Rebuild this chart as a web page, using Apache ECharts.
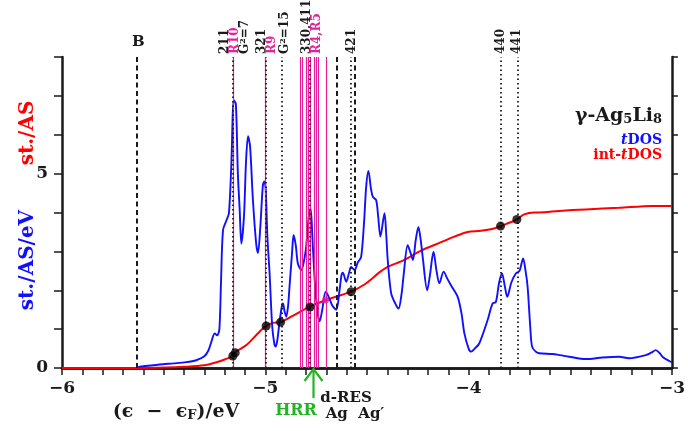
<!DOCTYPE html>
<html><head><meta charset="utf-8">
<script src="https://cdn.jsdelivr.net/npm/echarts@6/dist/echarts.min.js"></script>
<style>html,body{margin:0;padding:0;background:#fff}#c{width:688px;height:431px}</style>
</head><body><div id="c"></div>
<script>
// ---- data ----
const tdos = [[-5.625,0.03],[-5.52,0.09],[-5.45,0.12],[-5.39,0.15],[-5.34,0.2],[-5.30,0.3],[-5.28,0.45],[-5.265,0.68],[-5.249,0.89],[-5.237,0.84],[-5.226,1.0],[-5.218,2.2],[-5.208,3.55],[-5.191,3.8],[-5.179,3.98],[-5.167,5.26],[-5.155,6.89],[-5.145,6.8],[-5.135,5.0],[-5.126,4.06],[-5.118,3.2],[-5.105,3.9],[-5.095,5.3],[-5.085,5.96],[-5.075,5.7],[-5.061,4.32],[-5.045,3.2],[-5.036,2.96],[-5.025,3.6],[-5.012,4.7],[-5.005,4.8],[-4.998,4.6],[-4.99,3.4],[-4.979,2.43],[-4.966,1.06],[-4.955,0.6],[-4.949,0.55],[-4.94,0.75],[-4.933,1.06],[-4.92,1.55],[-4.913,1.66],[-4.905,1.45],[-4.897,1.32],[-4.888,1.6],[-4.881,2.09],[-4.868,3.0],[-4.861,3.42],[-4.85,3.15],[-4.84,2.69],[-4.823,2.52],[-4.81,2.75],[-4.799,3.12],[-4.786,3.9],[-4.777,4.1],[-4.768,3.3],[-4.758,2.35],[-4.745,1.5],[-4.733,1.2],[-4.72,1.5],[-4.703,1.96],[-4.69,1.85],[-4.67,1.6],[-4.651,1.5],[-4.635,2.0],[-4.625,2.4],[-4.619,2.45],[-4.602,2.22],[-4.588,2.45],[-4.578,2.6],[-4.561,2.52],[-4.545,2.72],[-4.529,2.85],[-4.515,3.7],[-4.504,4.66],[-4.493,5.07],[-4.48,4.6],[-4.471,4.4],[-4.455,4.32],[-4.445,3.9],[-4.434,3.38],[-4.414,3.98],[-4.405,3.4],[-4.398,2.78],[-4.381,1.92],[-4.36,1.65],[-4.345,1.53],[-4.33,1.9],[-4.319,2.43],[-4.3,3.16],[-4.288,3.0],[-4.274,2.78],[-4.26,3.3],[-4.247,3.63],[-4.236,3.3],[-4.226,2.86],[-4.204,2.0],[-4.19,2.4],[-4.173,2.99],[-4.158,2.5],[-4.144,2.18],[-4.123,2.48],[-4.105,2.3],[-4.087,2.13],[-4.054,1.83],[-4.035,1.4],[-4.021,0.89],[-4.0,0.5],[-3.988,0.42],[-3.97,0.5],[-3.948,0.63],[-3.907,1.23],[-3.882,1.66],[-3.866,1.7],[-3.85,2.2],[-3.836,2.43],[-3.822,2.1],[-3.81,1.83],[-3.79,2.2],[-3.768,2.43],[-3.75,2.5],[-3.732,2.82],[-3.72,2.5],[-3.71,2.09],[-3.697,1.06],[-3.688,0.55],[-3.67,0.42],[-3.653,0.38],[-3.588,0.36],[-3.55,0.33],[-3.506,0.29],[-3.424,0.23],[-3.342,0.27],[-3.26,0.29],[-3.211,0.25],[-3.129,0.33],[-3.1,0.4],[-3.08,0.46],[-3.06,0.38],[-3.047,0.29],[-3.007,0.16],[-3.0,0.15]];
const intTdos = [[-6,0],[-5.62,0.0],[-5.5,0.01],[-5.4,0.03],[-5.3,0.07],[-5.24,0.15],[-5.2,0.22],[-5.16,0.31],[-5.15,0.4],[-5.093,0.59],[-5.044,0.85],[-5.0,1.07],[-4.964,1.16],[-4.925,1.18],[-4.866,1.34],[-4.78,1.58],[-4.70,1.75],[-4.602,1.92],[-4.578,1.96],[-4.561,2.0],[-4.504,2.18],[-4.439,2.46],[-4.398,2.6],[-4.316,2.78],[-4.234,3.02],[-4.152,3.2],[-4.07,3.38],[-4.005,3.5],[-3.94,3.53],[-3.875,3.59],[-3.843,3.65],[-3.763,3.82],[-3.727,3.95],[-3.678,4.0],[-3.653,4.0],[-3.555,4.04],[-3.424,4.08],[-3.26,4.12],[-3.097,4.17],[-3.0,4.17]];
const blackDots = [[-5.16,0.31],[-5.148,0.39],[-4.996,1.08],[-4.925,1.18],[-4.780,1.57],[-4.578,1.96],[-3.843,3.65],[-3.763,3.82]];
const magentaDots = [[-4.704,1.75]];
const magentaLines = [-5.155,-4.995,-4.827,-4.817,-4.803,-4.791,-4.777,-4.764,-4.751,-4.737,-4.704];
const dottedLines = [-5.155,-4.995,-4.925,-4.780,-4.578,-3.841,-3.763];
const dashedLines = [-5.625,-4.646,-4.561];
const xLabelValues = [-6,-5,-4,-3];
const yLabelValues = [0,5];
const topLabels = [
  ['211',-5.200,'k'],['{m|R10}',-5.151,'m'],['G{s|2}=7',-5.101,'k'],
  ['321',-5.018,'k'],['{m|R9}',-4.969,'m'],['G{s|2}=15',-4.905,'k'],
  ['330,411',-4.797,'k'],['{m|R4,R5}',-4.748,'m'],['421',-4.576,'k'],
  ['440',-3.841,'k'],['441',-3.763,'k']
];

// ---- chart ----
const FONT = 'DejaVu Serif';
const INK = '#1a1a1a';
const MAG = '#e6209a';
const chart = echarts.init(document.getElementById('c'), null, {renderer:'canvas'});
const isLab = (v, arr) => arr.some(a => Math.abs(a - v) < 1e-6);

const markData = [];
magentaLines.forEach(v => markData.push({xAxis: v, lineStyle:{color:MAG, width:1.2, type:'solid'}}));
dottedLines.forEach(v => markData.push({xAxis: v, lineStyle:{color:INK, width:1.8, type:[1.5,3]}}));
dashedLines.forEach(v => markData.push({xAxis: v, lineStyle:{color:INK, width:2, type:[5,3.5]}}));

chart.setOption({
  animation:false,
  grid:{left:62, right:15, top:57, bottom:63},
  xAxis:[{
    type:'value', min:-6, max:-3, interval:0.1,
    axisLine:{lineStyle:{color:INK, width:2.5}},
    axisTick:{inside:false, length:7, lineStyle:{color:INK, width:1.5}},
    splitLine:{show:false},
    axisLabel:{margin:12, color:INK, fontFamily:FONT, fontWeight:'bold', fontSize:17,
      showMinLabel:true, showMaxLabel:true,
      formatter: v => isLab(v, xLabelValues) ? '\u2212' + Math.abs(Math.round(v)) : ''}
  },{
    type:'value', min:-6, max:-3, position:'top',
    axisLine:{show:true, lineStyle:{color:INK, width:2.5}},
    axisTick:{show:false}, axisLabel:{show:false}, splitLine:{show:false}
  }],
  yAxis:[{
    type:'value', min:0, max:8, interval:1,
    axisLine:{show:true, lineStyle:{color:INK, width:2.5}},
    axisTick:{show:true, inside:false, length:8, lineStyle:{color:INK, width:1.5}},
    splitLine:{show:false},
    axisLabel:{margin:14, color:INK, fontFamily:FONT, fontWeight:'bold', fontSize:17,
      formatter: v => isLab(v, yLabelValues) ? String(v) : ''}
  },{
    type:'value', min:0, max:8, interval:1, position:'right',
    axisLine:{show:true, lineStyle:{color:INK, width:2.5}},
    axisTick:{show:true, inside:false, length:6, lineStyle:{color:INK, width:1.5}},
    axisLabel:{show:false}, splitLine:{show:false}
  }],
  series:[
    {type:'line', data:intTdos, showSymbol:false, smooth:0.3, z:2,
      lineStyle:{color:'#ff0000', width:2}},
    {type:'line', data:tdos, showSymbol:false, smooth:0.3, z:3,
      lineStyle:{color:'#1010ff', width:1.9}},
    {type:'line', data:[], z:5, silent:true,
      markLine:{symbol:'none', silent:true, label:{show:false}, animation:false, data:markData}},
    {type:'scatter', data:blackDots, symbolSize:9, z:10, itemStyle:{color:'#000'}},
    {type:'scatter', data:magentaDots, symbolSize:7, z:10, itemStyle:{color:MAG}}
  ]
});

const px = v => chart.convertToPixel({xAxisIndex:0}, v);
const py = v => chart.convertToPixel({yAxisIndex:0}, v);
const topY = py(8) - 3;
const g = [];
topLabels.forEach(([t, v, c]) => {
  g.push({type:'text', x:px(v), y:topY, rotation:Math.PI/2, z:20,
    style:{text:t, fill: c==='m'?MAG:INK, font:`bold 12px "${FONT}"`, align:'left', verticalAlign:'middle',
      rich:{m:{fill:MAG, fontFamily:FONT, fontWeight:'bold', fontSize:12},
            s:{fontFamily:FONT, fontWeight:'bold', fontSize:8, verticalAlign:'top', fill:INK}}}});
});
// B label
g.push({type:'text', x:px(-5.625), y:42, z:20,
  style:{text:'B', fill:INK, font:`bold 15px "${FONT}"`, align:'center', verticalAlign:'middle'}});
// legend block
g.push({type:'text', x:662, y:116, z:20,
  style:{text:'γ-Ag{sub|5}Li{sub|8}', fill:INK, font:`bold 19px "${FONT}"`, align:'right', verticalAlign:'middle',
    rich:{sub:{fontFamily:FONT, fontWeight:'bold', fontSize:13, verticalAlign:'bottom', padding:[8,0,0,0], fill:INK}}}});
g.push({type:'text', x:662, y:140, z:20,
  style:{text:'{i|t}DOS', fill:'#1010ff', font:`bold 14px "${FONT}"`, align:'right', verticalAlign:'middle',
    rich:{i:{fontFamily:FONT, fontWeight:'bold', fontStyle:'italic', fontSize:14, fill:'#1010ff'}}}});
g.push({type:'text', x:662, y:155, z:20,
  style:{text:'int-{i|t}DOS', fill:'#ff0000', font:`bold 14px "${FONT}"`, align:'right', verticalAlign:'middle',
    rich:{i:{fontFamily:FONT, fontWeight:'bold', fontStyle:'italic', fontSize:14, fill:'#ff0000'}}}});
// y axis titles
g.push({type:'text', x:28, y:260, rotation:Math.PI/2, z:20,
  style:{text:'st./AS/eV', fill:'#1010ff', font:`bold 20px "${FONT}"`, align:'center', verticalAlign:'middle'}});
g.push({type:'text', x:28, y:133, rotation:Math.PI/2, z:20,
  style:{text:'st./AS', fill:'#ff0000', font:`bold 20px "${FONT}"`, align:'center', verticalAlign:'middle'}});
// x axis title
g.push({type:'text', x:176, y:412, z:20,
  style:{text:'(ϵ  −  ϵ{sub|F})/eV', fill:INK, font:`bold 19px "${FONT}"`, align:'center', verticalAlign:'middle',
    rich:{sub:{fontFamily:FONT, fontWeight:'bold', fontSize:13, verticalAlign:'bottom', padding:[8,0,0,0], fill:INK}}}});
// green arrow
const ax = px(-4.763), ay0 = py(0);
g.push({type:'line', z:20, shape:{x1:ax, y1:ay0+30, x2:ax, y2:ay0+1}, style:{stroke:'#22b522', lineWidth:2.2}});
g.push({type:'polyline', z:20, shape:{points:[[ax-9, ay0+13],[ax, ay0+1],[ax+9, ay0+13]]}, style:{stroke:'#22b522', lineWidth:2.2, fill:null}});
g.push({type:'text', x:296, y:411, z:20,
  style:{text:'HRR', fill:'#22b522', font:`bold 16px "${FONT}"`, align:'center', verticalAlign:'middle'}});
g.push({type:'text', x:346, y:398, z:20,
  style:{text:'d-RES', fill:INK, font:`bold 15px "${FONT}"`, align:'center', verticalAlign:'middle'}});
g.push({type:'text', x:355, y:414, z:20,
  style:{text:'Ag  Ag′', fill:INK, font:`bold 15px "${FONT}"`, align:'center', verticalAlign:'middle'}});
chart.setOption({graphic:g});
</script></body></html>
